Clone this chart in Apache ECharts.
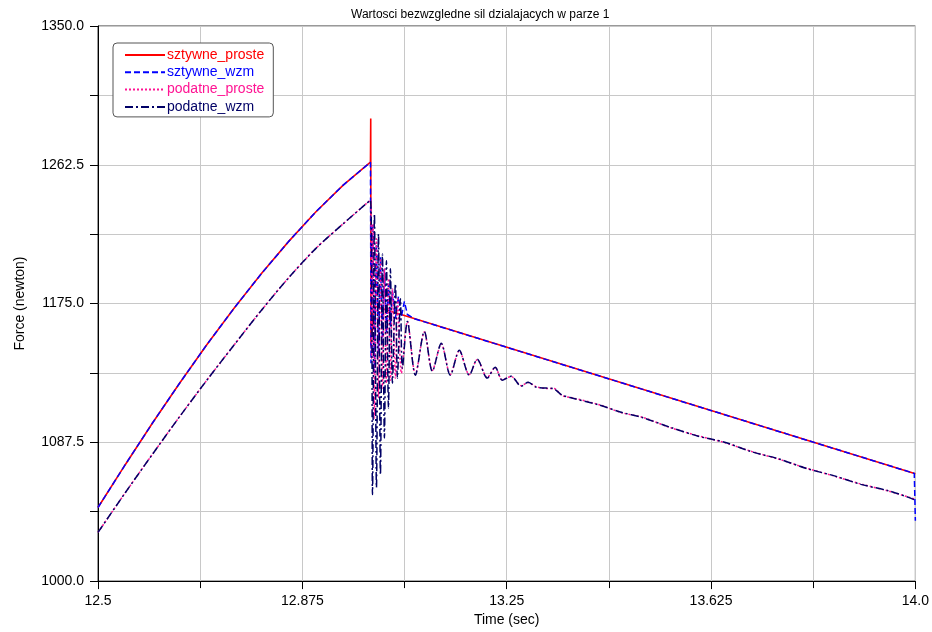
<!DOCTYPE html>
<html>
<head>
<meta charset="utf-8">
<script src="https://cdn.jsdelivr.net/npm/echarts@6/dist/echarts.min.js"></script>
<style>
  html, body { margin: 0; padding: 0; background: #fff; }
  #chart { width: 932px; height: 632px; }
</style>
</head>
<body>
<div id="chart"></div>
<script>
// time (sec) / force (newton)
const sztywneProsteT = [12.5, 12.55, 12.6, 12.65, 12.7, 12.75, 12.8, 12.85, 12.9, 12.95, 13.0,
  13.0005, 13.001, 13.006, 14.0];
const sztywneProsteF = [1046.4, 1073.4, 1099.7, 1124.9, 1149.2, 1172.2, 1193.9, 1214.2, 1232.9, 1249.7, 1264.1,
  1291.7, 1148.0, 1173.4, 1067.7];

const sztywneWzmT = [12.5, 12.55, 12.6, 12.65, 12.7, 12.75, 12.8, 12.85, 12.9, 12.95, 13.0,
  13.001, 13.0037, 13.0073, 13.011, 13.0147, 13.0183, 13.022, 13.0256, 13.0293, 13.033, 13.0366,
  13.0403, 13.0458, 13.0513, 13.0568, 13.0623, 13.0678, 13.08, 13.998, 14.0];
const sztywneWzmF = [1046.4, 1073.4, 1099.7, 1124.9, 1149.2, 1172.2, 1193.9, 1214.2, 1232.9, 1249.7, 1264.1,
  1137.4, 1225.2, 1131.1, 1212.6, 1143.6, 1204.5, 1149.9, 1197.0, 1156.2, 1187.5, 1160.6,
  1183.2, 1165.6, 1179.4, 1166.8, 1176.3, 1168.1, 1165.5, 1067.9, 1038.0];

const podatneProsteT = [12.5, 12.55, 12.6, 12.65, 12.7, 12.75, 12.8, 12.85, 12.9, 12.95, 13.0,
  13.002, 13.0046, 13.0073, 13.011, 13.0147, 13.0183, 13.022, 13.0256, 13.0293, 13.033, 13.0366,
  13.0403, 13.0458, 13.05, 13.0568, 13.0678, 13.0824, 13.0989, 13.1136, 13.13, 13.1465, 13.163,
  13.1813, 13.196, 13.2143, 13.2289, 13.2418, 13.2582, 13.2766, 13.2894, 13.304, 13.3223, 13.337,
  13.3516, 13.37, 13.42, 13.46, 13.5, 13.55, 13.6, 13.65, 13.7, 13.75, 13.8, 13.85, 13.9, 13.95,
  13.99, 14.0];
const podatneProsteF = [1030.7, 1055.7, 1080.0, 1103.8, 1126.8, 1149.0, 1170.8, 1191.3, 1209.8, 1225.3, 1240.2,
  1140.5, 1225.2, 1102.9, 1215.8, 1115.4, 1203.2, 1121.7, 1197.0, 1124.8, 1190.7, 1126.7,
  1184.4, 1128.0, 1178.1, 1131.1, 1163.7, 1130.5, 1157.0, 1132.8, 1149.5, 1130.3, 1145.2,
  1130.2, 1139.6, 1128.4, 1134.6, 1127.0, 1129.0, 1123.2, 1125.2, 1122.6, 1121.5, 1121.4,
  1117.0, 1115.6, 1111.2, 1106.3, 1103.2, 1096.8, 1091.7, 1087.3, 1081.7, 1076.8, 1071.2, 1066.3, 1061.2, 1056.8,
  1052.7, 1051.5];

const podatneWzmT = [12.5, 12.55, 12.6, 12.65, 12.7, 12.75, 12.8, 12.85, 12.9, 12.95, 13.0,
  13.0037, 13.0073, 13.011, 13.0147, 13.0183, 13.022, 13.0256, 13.0293, 13.033, 13.0366, 13.0403,
  13.0458, 13.0495, 13.055, 13.0586, 13.0678, 13.0824, 13.0989, 13.1136, 13.13, 13.1465, 13.163,
  13.1813, 13.196, 13.2143, 13.2289, 13.2418, 13.2582, 13.2766, 13.2894, 13.304, 13.3223, 13.337,
  13.3516, 13.37, 13.42, 13.46, 13.5, 13.55, 13.6, 13.65, 13.7, 13.75, 13.8, 13.85, 13.9, 13.95,
  13.99, 14.0];
const podatneWzmF = [1030.7, 1055.7, 1080.0, 1103.8, 1126.8, 1149.0, 1170.8, 1191.3, 1209.8, 1225.3, 1240.2,
  1054.6, 1231.5, 1059.0, 1218.9, 1067.1, 1206.4, 1090.3, 1202.0, 1109.1, 1197.0, 1124.8,
  1187.5, 1128.0, 1178.1, 1134.2, 1163.7, 1129.8, 1157.4, 1132.3, 1149.9, 1129.8, 1145.5,
  1129.8, 1139.9, 1128.0, 1134.9, 1126.7, 1129.2, 1122.9, 1125.4, 1122.3, 1121.7, 1121.1,
  1117.3, 1115.4, 1111.0, 1106.5, 1103.0, 1097.0, 1091.5, 1087.5, 1081.5, 1077.0, 1071.0, 1066.5, 1061.0, 1057.0,
  1052.5, 1051.0];

const seriesNames = ["sztywne_proste", "sztywne_wzm", "podatne_proste", "podatne_wzm"];
const seriesColors = ["#ff0000", "#0000ff", "#ff1493", "#000066"];

const zip = (t, f) => t.map((v, i) => [v, f[i]]);

const chart = echarts.init(document.getElementById("chart"));

const font = "Liberation Sans, Arial, sans-serif";
const axisFont = { fontFamily: font, fontSize: 14, color: "#000" };

chart.setOption({
  animation: false,
  title: {
    text: "Wartosci bezwzgledne sil dzialajacych w parze 1",
    left: 346,
    top: 4,
    textStyle: { fontFamily: font, fontSize: 12, fontWeight: "normal", color: "#000" },
  },
  legend: {
    orient: "vertical",
    left: 113,
    top: 43,
    padding: [5, 9, 3, 11],
    itemWidth: 40,
    itemHeight: 14,
    itemGap: 3.3,
    borderColor: "#555",
    borderWidth: 1,
    borderRadius: 4,
    backgroundColor: "#fff",
    itemStyle: { opacity: 0 },
    textStyle: { fontFamily: font, fontSize: 14, padding: [0, 0, 0, -3] },
    data: seriesNames.map((n, i) => ({ name: n, textStyle: { color: seriesColors[i] } })),
  },
  grid: { left: 98, right: 15, top: 26, bottom: 48, show: true, borderColor: "#333", borderWidth: 1 },
  xAxis: {
    type: "value",
    min: 12.5,
    max: 14.0,
    interval: 0.375,
    name: "Time (sec)",
    nameLocation: "middle",
    nameGap: 31,
    nameTextStyle: axisFont,
    axisLine: { lineStyle: { color: "#000" } },
    axisTick: { length: 8, lineStyle: { color: "#000" } },
    minorTick: { show: true, splitNumber: 2, length: 7, lineStyle: { color: "#000" } },
    splitLine: { show: true, lineStyle: { color: "#c8c8c8" } },
    minorSplitLine: { show: true, lineStyle: { color: "#c8c8c8" } },
    axisLabel: {
      ...axisFont,
      margin: 13,
      formatter: (v) => (Number.isInteger(v) ? v.toFixed(1) : String(v)),
    },
  },
  yAxis: {
    type: "value",
    min: 1000,
    max: 1350,
    interval: 87.5,
    name: "Force (newton)",
    nameLocation: "middle",
    nameGap: 71,
    nameTextStyle: axisFont,
    axisLine: { show: true, lineStyle: { color: "#000" } },
    axisTick: { show: true, length: 8, lineStyle: { color: "#000" } },
    minorTick: { show: true, splitNumber: 2, length: 8, lineStyle: { color: "#000" } },
    splitLine: { show: true, lineStyle: { color: "#c8c8c8" } },
    minorSplitLine: { show: true, lineStyle: { color: "#c8c8c8" } },
    axisLabel: { ...axisFont, margin: 14, formatter: (v) => v.toFixed(1) },
  },
  series: [
    {
      name: seriesNames[0],
      type: "line",
      symbol: "none",
      data: zip(sztywneProsteT, sztywneProsteF),
      lineStyle: { color: seriesColors[0], width: 1.6 },
      itemStyle: { color: seriesColors[0] },
    },
    {
      name: seriesNames[1],
      type: "line",
      symbol: "none",
      data: zip(sztywneWzmT, sztywneWzmF),
      lineStyle: { color: seriesColors[1], width: 1.5, type: [6, 3] },
      itemStyle: { color: seriesColors[1] },
    },
    {
      name: seriesNames[2],
      type: "line",
      symbol: "none",
      smooth: 0.3,
      data: zip(podatneProsteT, podatneProsteF),
      lineStyle: { color: seriesColors[2], width: 1.5, type: [2, 2] },
      itemStyle: { color: seriesColors[2] },
    },
    {
      name: seriesNames[3],
      type: "line",
      symbol: "none",
      smooth: 0.3,
      data: zip(podatneWzmT, podatneWzmF),
      lineStyle: { color: seriesColors[3], width: 1.5, type: [8, 3, 2, 3] },
      itemStyle: { color: seriesColors[3] },
    },
  ],
});
</script>
</body>
</html>
